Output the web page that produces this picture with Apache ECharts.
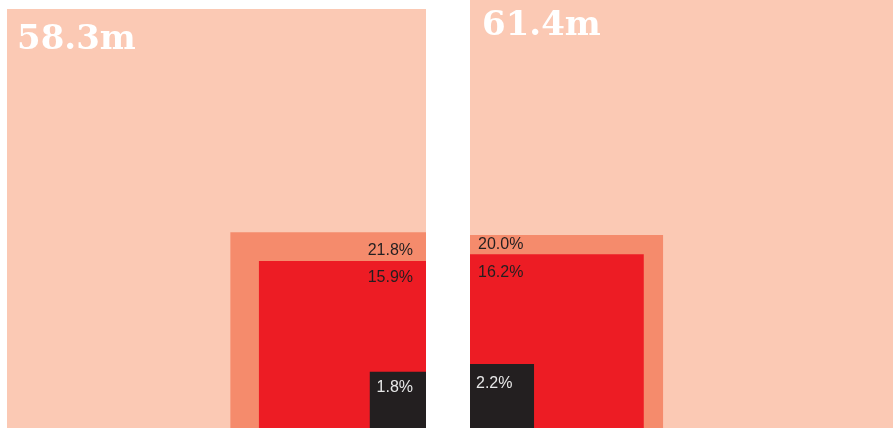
<!DOCTYPE html>
<html>
<head>
<meta charset="utf-8">
<script src="https://cdn.jsdelivr.net/npm/echarts@6/dist/echarts.min.js"></script>
<style>html,body{margin:0;padding:0;background:#fff;}#c{width:893px;height:428px;}</style>
</head>
<body>
<div id="c"></div>
<script>
// Data
const panelTotals = [58.3, 61.4];            // millions
const panelLabels = ['58.3m', '61.4m'];
const leftShares  = [21.8, 15.9, 1.8];       // % of total
const rightShares = [20.0, 16.2, 2.2];

// Styles
const colors = ['#FBC9B4', '#F58B6C', '#ED1C24', '#231F20'];
const textColors = ['#ffffff', '#231F20', '#231F20', '#E8E8E8'];
const pxPerUnit = 419 / Math.sqrt(panelTotals[0]);
const pxPerUnitR = pxPerUnit * 1.004;

const chart = echarts.init(document.getElementById('c'), null, {renderer: 'canvas'});

function buildData(total, shares) {
  const S = Math.sqrt(total);
  const items = [{value: [S, 100]}];
  shares.forEach(p => items.push({value: [S * Math.sqrt(p / 100), p]}));
  return items;
}

const leftTopOff = [24, 10, 9, 8];
const rightTopOff = [9, 2, 10, 12];
const rightLeftIn = [12, 8, 8, 6];

function makeRender(anchorRight, S) {
  return function (params, api) {
    const i = params.dataIndex;
    const s = api.value(0);
    const x0 = anchorRight ? S - s : 0;
    const p1 = api.coord([x0, s]);
    const p2 = api.coord([x0 + s, 0]);
    const rect = {x: p1[0], y: p1[1], width: p2[0] - p1[0], height: p2[1] - p1[1]};
    const text = i === 0 ? (anchorRight ? panelLabels[0] : panelLabels[1]) : api.value(1).toFixed(1) + '%';
    const isBig = i === 0;
    let tx, ty, align;
    if (isBig) {
      align = 'left';
      tx = rect.x + (anchorRight ? 10 : 12);
      ty = anchorRight ? rect.y + leftTopOff[0] - 10 : rightTopOff[0];
    } else if (anchorRight) {
      align = 'right';
      tx = rect.x + rect.width - 13;
      ty = rect.y + leftTopOff[i];
    } else {
      align = 'left';
      tx = rect.x + rightLeftIn[i];
      ty = rect.y + rightTopOff[i];
    }
    return {
      type: 'group',
      children: [
        {type: 'rect', shape: rect, style: {fill: colors[i]}},
        {type: 'text', x: tx, y: ty, style: {
          text: text, align: align, verticalAlign: 'top',
          fill: textColors[i],
          font: isBig ? 'bold 34px "DejaVu Serif"' : '16px "Liberation Sans"'
        }}
      ]
    };
  };
}

const S1 = Math.sqrt(panelTotals[0]);
const S2 = Math.sqrt(panelTotals[1]);
const w1 = S1 * pxPerUnit;
// right panel grid fills the visible area; the big square overflows it
const g2w = 893 - 470, g2h = 428;

const hiddenAxis = {show: false, axisLine: {show: false}, splitLine: {show: false}, axisTick: {show: false}, axisLabel: {show: false}};

chart.setOption({
  animation: false,
  grid: [
    {left: 7, bottom: 0, width: w1, height: w1, outerBoundsMode: 'none'},
    {left: 470, bottom: 0, width: g2w, height: g2h, outerBoundsMode: 'none'}
  ],
  xAxis: [
    Object.assign({type: 'value', gridIndex: 0, min: 0, max: S1}, hiddenAxis),
    Object.assign({type: 'value', gridIndex: 1, min: 0, max: g2w / pxPerUnitR}, hiddenAxis)
  ],
  yAxis: [
    Object.assign({type: 'value', gridIndex: 0, min: 0, max: S1}, hiddenAxis),
    Object.assign({type: 'value', gridIndex: 1, min: 0, max: g2h / pxPerUnitR}, hiddenAxis)
  ],
  series: [
    {type: 'custom', xAxisIndex: 0, yAxisIndex: 0, clip: false,
     renderItem: makeRender(true, S1), data: buildData(panelTotals[0], leftShares)},
    {type: 'custom', xAxisIndex: 1, yAxisIndex: 1, clip: false,
     renderItem: makeRender(false, S2), data: buildData(panelTotals[1], rightShares)}
  ]
});
</script>
</body>
</html>
